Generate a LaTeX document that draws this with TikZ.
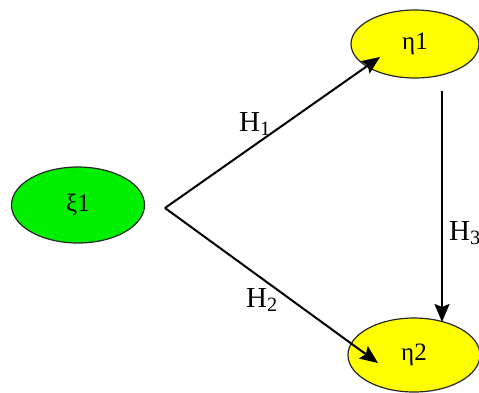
\documentclass[tikz,border=0pt]{standalone}
\usepackage{fontspec}
\setmainfont{Liberation Serif}
\usetikzlibrary{arrows.meta,shapes.geometric}
\definecolor{limeg}{RGB}{0,240,0}
\definecolor{yell}{RGB}{255,255,0}
\tikzset{
  var/.style={ellipse, draw=black!85, line width=1.2pt, minimum width=#1, inner sep=0pt, font=\fontsize{25}{25}\selectfont},
  conn/.style={line width=2pt, -{Stealth[length=18pt,width=15pt,inset=3pt]}},
  lbl/.style={font=\fontsize{29}{29}\selectfont, inner sep=0pt}
}
\begin{document}
\begin{tikzpicture}[x=1pt,y=-1pt]
\useasboundingbox (0,0) rectangle (479,392);
\clip (0,0) rectangle (479,392);
\node[var=133pt, minimum height=76pt, fill=limeg] (xi1) at (78,205) {ξ1};
\node[var=128pt, minimum height=68pt, fill=yell] (eta1) at (415,44) {η1};
\node[var=132pt, minimum height=74pt, fill=yell] (eta2) at (414,355) {η2};
\coordinate (apex) at (165,208);
\coordinate (t1) at (380,57);
\coordinate (t2) at (378,363);
\coordinate (v1) at (442,91);
\coordinate (v2) at (442,322);
\draw[conn] (apex) -- (t1);
\draw[conn] (apex) -- (t2);
\draw[conn] (v1) -- (v2);
\node[lbl, anchor=base west] (h1) at (239,131) {H\textsubscript{1}};
\node[lbl, anchor=base west] (h2) at (246,307) {H\textsubscript{2}};
\node[lbl, anchor=base west] (h3) at (449,240) {H\textsubscript{3}};
\end{tikzpicture}
\end{document}
